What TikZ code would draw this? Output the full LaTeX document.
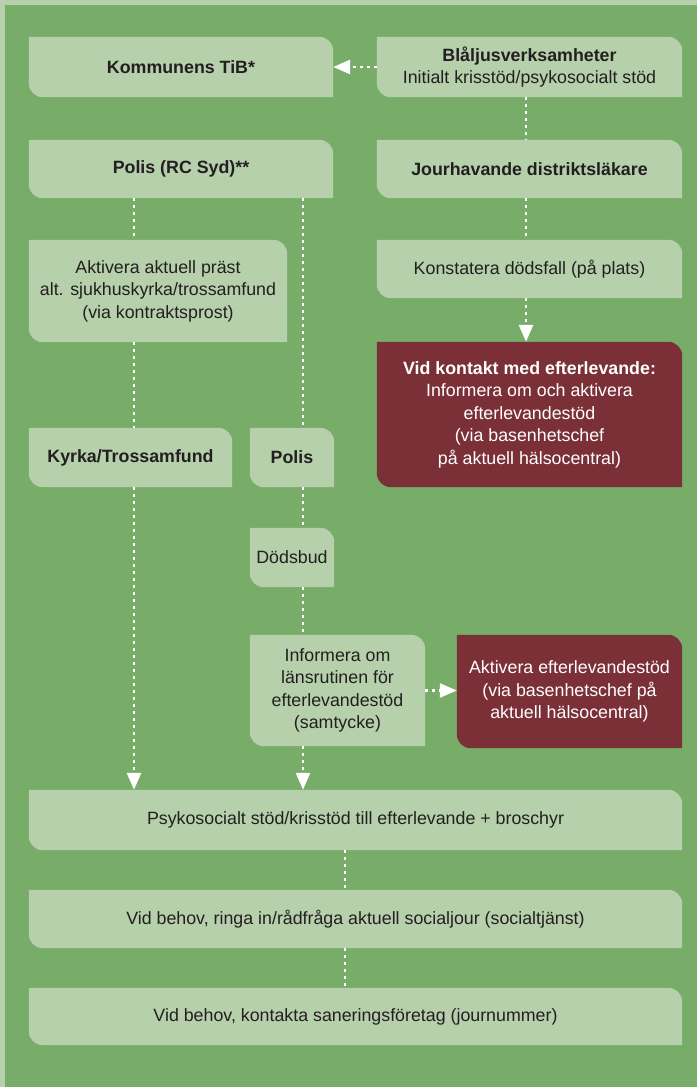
\documentclass[tikz,border=0pt]{standalone}
\usepackage{fontspec}
\setmainfont{Liberation Sans}
\usetikzlibrary{arrows.meta,backgrounds}

\definecolor{pagelight}{RGB}{181,208,171}
\definecolor{pagegreen}{RGB}{119,173,105}
\definecolor{cardred}{RGB}{123,48,55}
\definecolor{inkgray}{RGB}{35,31,32}

\tikzset{
  card/.style={inner sep=0pt, align=center, text=inkgray,
    font=\fontsize{17.8}{22.5}\selectfont},
  redcard/.style={card, text=white},
  flow/.style={white, line width=2.6pt, dash pattern=on 2.6pt off 4.4pt},
  flowarrow/.style={flow, -{Triangle[length=17pt,width=14pt]}},
}

\begin{document}
\begin{tikzpicture}[x=1pt,y=-1pt]
\useasboundingbox (0,0) rectangle (697,1087);

\coordinate (lcol) at (134,0);
\coordinate (rcol) at (303,0);
\coordinate (jcol) at (526,0);
\coordinate (mcol) at (345,0);

\node[card, minimum width=304pt, minimum height=60pt] (tib) at (181,67) {\textbf{Kommunens TiB*}};
\node[card, minimum width=305pt, minimum height=60pt] (blaljus) at (529.5,67) {\textbf{Blåljusverksamheter}\\Initialt krisstöd/psykosocialt stöd};
\node[card, minimum width=304pt, minimum height=58pt] (polisrc) at (181,169) {\textbf{Polis (RC Syd)**}};
\node[card, minimum width=305pt, minimum height=58pt] (jour) at (529.5,169) {\textbf{Jourhavande distriktsläkare}};
\node[card, minimum width=258pt, minimum height=102pt] (prast) at (158,291) {Aktivera aktuell präst\\alt. sjukhuskyrka/trossamfund\\(via kontraktsprost)};
\node[card, minimum width=305pt, minimum height=58pt] (konst) at (529.5,269) {Konstatera dödsfall (på plats)};
\node[redcard, minimum width=305pt, minimum height=145pt] (kontakt) at (529.5,414.5) {\textbf{Vid kontakt med efterlevande:}\\Informera om och aktivera\\efterlevandestöd\\(via basenhetschef\\på aktuell hälsocentral)};
\node[card, minimum width=203pt, minimum height=59pt] (kyrka) at (130.5,457.5) {\textbf{Kyrka/Trossamfund}};
\node[card, minimum width=84pt, minimum height=59pt] (polis) at (292,457.5) {\textbf{Polis}};
\node[card, minimum width=84pt, minimum height=59pt] (dodsbud) at (292,557.5) {Dödsbud};
\node[card, minimum width=175pt, minimum height=111pt] (lansrutin) at (337.5,690.5) {Informera om\\länsrutinen för\\efterlevandestöd\\(samtycke)};
\node[redcard, minimum width=225pt, minimum height=113pt] (aktivera) at (569.5,691.5) {Aktivera efterlevandestöd\\(via basenhetschef på\\aktuell hälsocentral)};
\node[card, minimum width=653pt, minimum height=60pt] (psyk) at (355.5,820) {Psykosocialt stöd/krisstöd till efterlevande + broschyr};
\node[card, minimum width=653pt, minimum height=58pt] (socjour) at (355.5,919) {Vid behov, ringa in/rådfråga aktuell socialjour (socialtjänst)};
\node[card, minimum width=653pt, minimum height=57pt] (sanering) at (355.5,1016.5) {Vid behov, kontakta saneringsföretag (journummer)};

\begin{scope}[on background layer]
\fill[pagelight] (0,0) rectangle (697,1087);
\fill[pagegreen] (5,5) rectangle (697,1087);
\foreach \n/\c in {tib/pagelight, blaljus/pagelight, polisrc/pagelight, jour/pagelight,
  prast/pagelight, konst/pagelight, kontakt/cardred, kyrka/pagelight, polis/pagelight,
  dodsbud/pagelight, lansrutin/pagelight, aktivera/cardred, psyk/pagelight,
  socjour/pagelight, sanering/pagelight}
  \fill[\c] (\n.north west) -- ([xshift=-14pt]\n.north east)
    arc[start angle=90, end angle=0, radius=14pt] -- (\n.south east)
    -- ([xshift=14pt]\n.south west)
    arc[start angle=270, end angle=180, radius=14pt] -- cycle;
\end{scope}

\draw[flowarrow] (blaljus.west) -- (tib.east);
\draw[flow] (blaljus.south -| jcol) -- (jour.north -| jcol);
\draw[flow] (jour.south -| jcol) -- (konst.north -| jcol);
\draw[flowarrow] (konst.south -| jcol) -- (kontakt.north -| jcol);
\draw[flow] (polisrc.south -| lcol) -- (prast.north -| lcol);
\draw[flow] (prast.south -| lcol) -- (kyrka.north -| lcol);
\draw[flowarrow] (kyrka.south -| lcol) -- (psyk.north -| lcol);
\draw[flow] (polisrc.south -| rcol) -- (polis.north -| rcol);
\draw[flow] (polis.south -| rcol) -- (dodsbud.north -| rcol);
\draw[flow] (dodsbud.south -| rcol) -- (lansrutin.north -| rcol);
\draw[flowarrow] (lansrutin.south -| rcol) -- (psyk.north -| rcol);
\draw[flowarrow] (lansrutin.east) -- (lansrutin.east -| aktivera.west);
\draw[flow] (psyk.south -| mcol) -- (socjour.north -| mcol);
\draw[flow] (socjour.south -| mcol) -- (sanering.north -| mcol);
\end{tikzpicture}
\end{document}
